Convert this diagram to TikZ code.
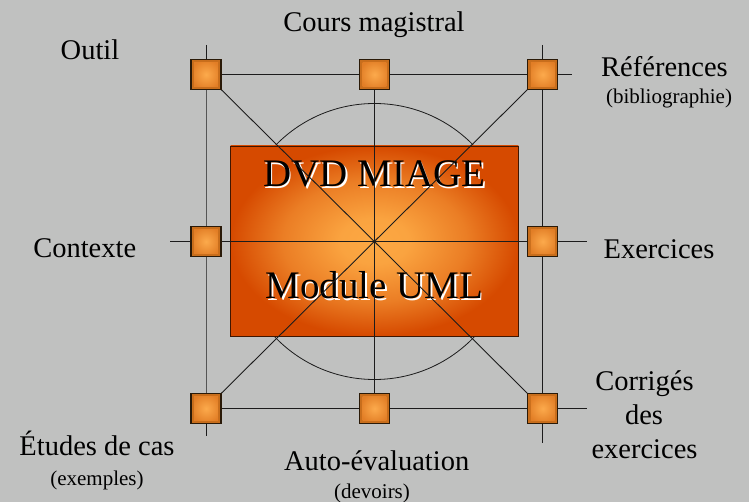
\documentclass[tikz,border=0pt]{standalone}
\usepackage{fontspec}
\setmainfont{Liberation Serif}
\definecolor{bg}{HTML}{C0C1C0}
\definecolor{linec}{HTML}{1C1C1C}
\definecolor{rectout}{HTML}{D64A00}
\definecolor{rectin}{HTML}{FCA843}
\definecolor{sqfill}{HTML}{C86E1C}
\definecolor{sqin}{HTML}{FCAA4C}
\definecolor{sqout}{HTML}{E27E26}
\definecolor{sqborder}{HTML}{2A1A08}
\pgfdeclareradialshading{rectglow}{\pgfpoint{0bp}{0bp}}{%
  color(0bp)=(rectin); color(6bp)=(rectin!95!rectout); color(16bp)=(rectin!55!rectout);
  color(25bp)=(rectout); color(50bp)=(rectout)}
\newcommand{\shadowtext}[1]{\makebox[0pt][l]{\hspace{1.4pt}\raisebox{-1.5pt}{\color{white}#1}}#1}
\tikzset{
  conn/.style={draw=linec, line width=0.9pt},
  sqbox/.style={rectangle, minimum size=30pt, inner sep=0pt, draw=sqborder, line width=1.3pt, fill=sqfill,
    path picture={\shade[inner color=sqin, outer color=sqout]
      ([shift={(3.2pt,-3.2pt)}]path picture bounding box.north west) rectangle
      ([shift={(-3.2pt,3.2pt)}]path picture bounding box.south east);}},
  lbl/.style={anchor=base, inner sep=0pt, font=\fontsize{28.5}{34}\selectfont, text=black},
  sublbl/.style={anchor=base, inner sep=0pt, font=\fontsize{21}{25}\selectfont, text=black},
  bigtxt/.style={anchor=base, inner sep=0pt, font=\fontsize{39}{46}\selectfont, text=black}
}
\begin{document}
\begin{tikzpicture}[x=1pt,y=-1pt]
\useasboundingbox (0,0) rectangle (749,502);
\fill[bg] (0,0) rectangle (749,502);
% positions
\coordinate (ptl) at (206,74.5);
\coordinate (ptm) at (374.5,74.5);
\coordinate (ptr) at (542.7,74.5);
\coordinate (pml) at (206,241.5);
\coordinate (pmr) at (542.7,241.5);
\coordinate (pbl) at (206,408.5);
\coordinate (pbm) at (374.5,408.5);
\coordinate (pbr) at (542.7,408.5);
\coordinate (ctr) at (374.5,241.5);
% free ends
\coordinate (topend) at (572,74.5);
\coordinate (midleft) at (170,241.5);
\coordinate (midright) at (587,241.5);
\coordinate (botend) at (587,408.5);
\coordinate (ltop) at (206,45);
\coordinate (lbot) at (206,436);
\coordinate (rtop) at (542.7,45);
\coordinate (rbot) at (542.7,443);
% circle
\draw[linec, line width=0.8pt] (ctr) circle[radius=138pt];
% central rectangle
\shade[shading=rectglow] (230.7,146) rectangle (518.3,336);
\draw[draw=black!70!rectout, line width=0.8pt] (230.7,146) rectangle (518.3,336);
\node[bigtxt] (dvd) at (374.5,186.7) {\shadowtext{DVD MIAGE}};
\node[bigtxt] (uml) at (374.5,299) {\shadowtext{Module UML}};
% connectors
\draw[conn] (ptl) -- (ptm) -- (ptr) -- (topend);
\draw[conn] (midleft) -- (pml) -- (pmr) -- (midright);
\draw[conn] (pbl) -- (pbm) -- (pbr) -- (botend);
\draw[conn] (ltop) -- (ptl) -- (pml) -- (pbl) -- (lbot);
\draw[conn] (rtop) -- (ptr) -- (pmr) -- (pbr) -- (rbot);
\draw[conn] (ptm) -- (pbm);
\draw[conn] (ptl) -- (pbr);
\draw[conn] (ptr) -- (pbl);
% squares
\node[sqbox] (tl) at (ptl) {};
\node[sqbox] (tm) at (ptm) {};
\node[sqbox] (tr) at (ptr) {};
\node[sqbox] (ml) at (pml) {};
\node[sqbox] (mr) at (pmr) {};
\node[sqbox] (bl) at (pbl) {};
\node[sqbox] (bm) at (pbm) {};
\node[sqbox] (br) at (pbr) {};
% labels
\node[lbl] (cours) at (374,31.7) {Cours magistral};
\node[lbl] (outil) at (90,60) {Outil};
\node[lbl] (refs) at (664.5,77) {Références};
\node[sublbl] (biblio) at (669,104) {(bibliographie)};
\node[lbl] (contexte) at (84.7,258) {Contexte};
\node[lbl] (exos) at (659,259) {Exercices};
\node[lbl] (corr1) at (644.5,390) {Corrigés};
\node[lbl] (corr2) at (644,424) {des};
\node[lbl] (corr3) at (644.5,458) {exercices};
\node[lbl] (etudes) at (97,455) {Études de cas};
\node[sublbl] (exemples) at (97,485) {(exemples)};
\node[lbl] (auto) at (376.7,470) {Auto-évaluation};
\node[sublbl] (devoirs) at (372,498) {(devoirs)};
\end{tikzpicture}
\end{document}
